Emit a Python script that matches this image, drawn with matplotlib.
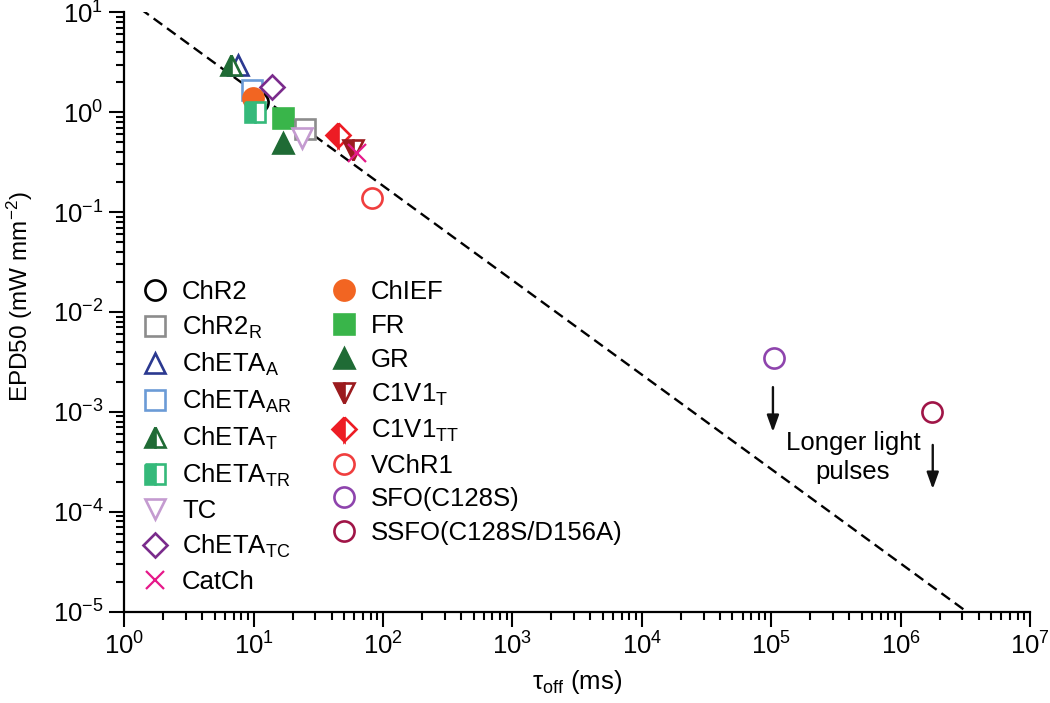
import numpy as np
import matplotlib
matplotlib.use("Agg")
import matplotlib.pyplot as plt

plt.rcParams['font.family'] = ['Liberation Sans', 'DejaVu Sans']
plt.rcParams['mathtext.fontset'] = 'custom'
plt.rcParams['mathtext.rm'] = 'Liberation Sans'
plt.rcParams['mathtext.it'] = 'Liberation Sans:italic'
plt.rcParams['mathtext.default'] = 'regular'

# ---- data (tau_off in ms, EPD50 in mW mm^-2) ----
names = ['ChR2', 'ChR2_R', 'ChETA_A', 'ChETA_AR', 'ChETA_T', 'ChETA_TR', 'TC',
         'ChETA_TC', 'CatCh', 'ChIEF', 'FR', 'GR', 'C1V1_T', 'C1V1_TT', 'VChR1',
         'SFO(C128S)', 'SSFO(C128S/D156A)']
labels = ['ChR2', 'ChR2$_{R}$', 'ChETA$_{A}$', 'ChETA$_{AR}$', 'ChETA$_{T}$',
          'ChETA$_{TR}$', 'TC', 'ChETA$_{TC}$', 'CatCh', 'ChIEF', 'FR', 'GR',
          'C1V1$_{T}$', 'C1V1$_{TT}$', 'VChR1', 'SFO(C128S)', 'SSFO(C128S/D156A)']
tau_off = [10.8, 24.9, 7.6, 9.7, 6.7, 10.2, 23.6, 13.8, 62.8, 9.9, 16.8, 16.8,
           58.5, 44.8, 82.0, 1.05e5, 1.74e6]
epd50 = [1.26, 0.68, 2.97, 1.67, 2.97, 1.00, 0.55, 1.79, 0.39, 1.39, 0.87, 0.49,
         0.42, 0.59, 0.138, 3.47e-3, 1.0e-3]

colors = ['#000000', '#8c8c8c', '#2b3990', '#6b9bd6', '#1f6b35', '#35b97a',
          '#c49bd0', '#7a2b8c', '#e6198a', '#f26522', '#39b54a', '#1f6b35',
          '#9b1b1e', '#ed1c24', '#f03e3e', '#8e44ad', '#a01547']
markers = ['o', 's', '^', 's', '^', 's', 'v', 'D', 'x', 'o', 's', '^', 'v', 'D',
           'o', 'o', 'o']
fills = ['none', 'none', 'none', 'none', 'left', 'left', 'none', 'none', 'full',
         'full', 'full', 'full', 'left', 'left', 'none', 'none', 'none']
draw_order = [0, 3, 9, 5, 2, 4, 7, 10, 11, 1, 6, 13, 12, 8, 14, 15, 16]

# fitted power law EPD50 = A * tau^b
fit_A = 14.2
fit_b = -0.945

# arrows: (x, y_start, y_end)
arrow_x = [1.03e5, 1.77e6]
arrow_y0 = [1.77e-3, 4.67e-4]
arrow_y1 = [6.3e-4, 1.69e-4]

FS = 18.5

fig = plt.figure(figsize=(10.5, 7.03), dpi=100)
ax = fig.add_axes([0.1184, 0.1299, 0.8626, 0.8526])

tt = np.logspace(0, 7, 200)
ax.plot(tt, fit_A * tt ** fit_b, color='black', lw=1.7, dashes=(4.5, 2.5), zorder=1)

handles = [None] * len(names)
for z, i in enumerate(draw_order):
    m = markers[i]
    ms = 12 if m == 'D' else (12.5 if m == 'x' else 14.5)
    kw = dict(marker=m, markersize=ms, linestyle='none', markeredgewidth=1.9,
              color=colors[i], markeredgecolor=colors[i])
    if fills[i] == 'none':
        kw.update(markerfacecolor='white')
    elif fills[i] == 'left':
        kw.update(fillstyle='left', markerfacecolor=colors[i], markerfacecoloralt='white')
    else:
        kw.update(markerfacecolor=colors[i])
    if m == 'x':
        kw.update(markeredgewidth=1.6)
    h, = ax.plot([tau_off[i]], [epd50[i]], zorder=3 + z, **kw)
    handles[i] = h

for x, y0, y1 in zip(arrow_x, arrow_y0, arrow_y1):
    ax.annotate('', xy=(x, y1), xytext=(x, y0),
                arrowprops=dict(arrowstyle='-|>,head_length=1.0,head_width=0.36',
                                color='#111111', lw=1.7, shrinkA=0, shrinkB=0))
ax.text(4.27e5, 3.47e-4, 'Longer light\npulses', ha='center', va='center',
        fontsize=FS, linespacing=1.25)

ax.set_xscale('log')
ax.set_yscale('log')
ax.set_xlim(1, 1e7)
ax.set_ylim(1e-5, 10)
for s in ['top', 'right']:
    ax.spines[s].set_visible(False)
for s in ['left', 'bottom']:
    ax.spines[s].set_linewidth(1.6)
ax.tick_params(which='major', length=11, width=1.5, labelsize=FS, direction='out', pad=4)
ax.tick_params(which='minor', length=5.5, width=1.5, direction='out')
ax.xaxis.set_major_locator(matplotlib.ticker.LogLocator(base=10, numticks=20))
ax.yaxis.set_major_locator(matplotlib.ticker.LogLocator(base=10, numticks=20))
ax.xaxis.set_minor_locator(matplotlib.ticker.LogLocator(base=10, subs=np.arange(2, 10), numticks=20))
ax.yaxis.set_minor_locator(matplotlib.ticker.LogLocator(base=10, subs=np.arange(2, 10), numticks=20))
ax.xaxis.set_minor_formatter(matplotlib.ticker.NullFormatter())
ax.yaxis.set_minor_formatter(matplotlib.ticker.NullFormatter())

ax.set_xlabel('τ$_{off}$ (ms)', fontsize=FS, labelpad=6)
ax.set_ylabel('EPD50 (mW mm$^{-2}$)', fontsize=17.5)
ax.yaxis.set_label_coords(-0.099, 0.525)

leg = ax.legend(handles, labels, ncol=2, loc='upper left', bbox_to_anchor=(0.0055, 0.57),
                frameon=False, fontsize=FS, handlelength=1.2, handletextpad=0.45,
                labelspacing=0.38, columnspacing=1.45, borderaxespad=0)

fig.savefig('out.png', dpi=100)
